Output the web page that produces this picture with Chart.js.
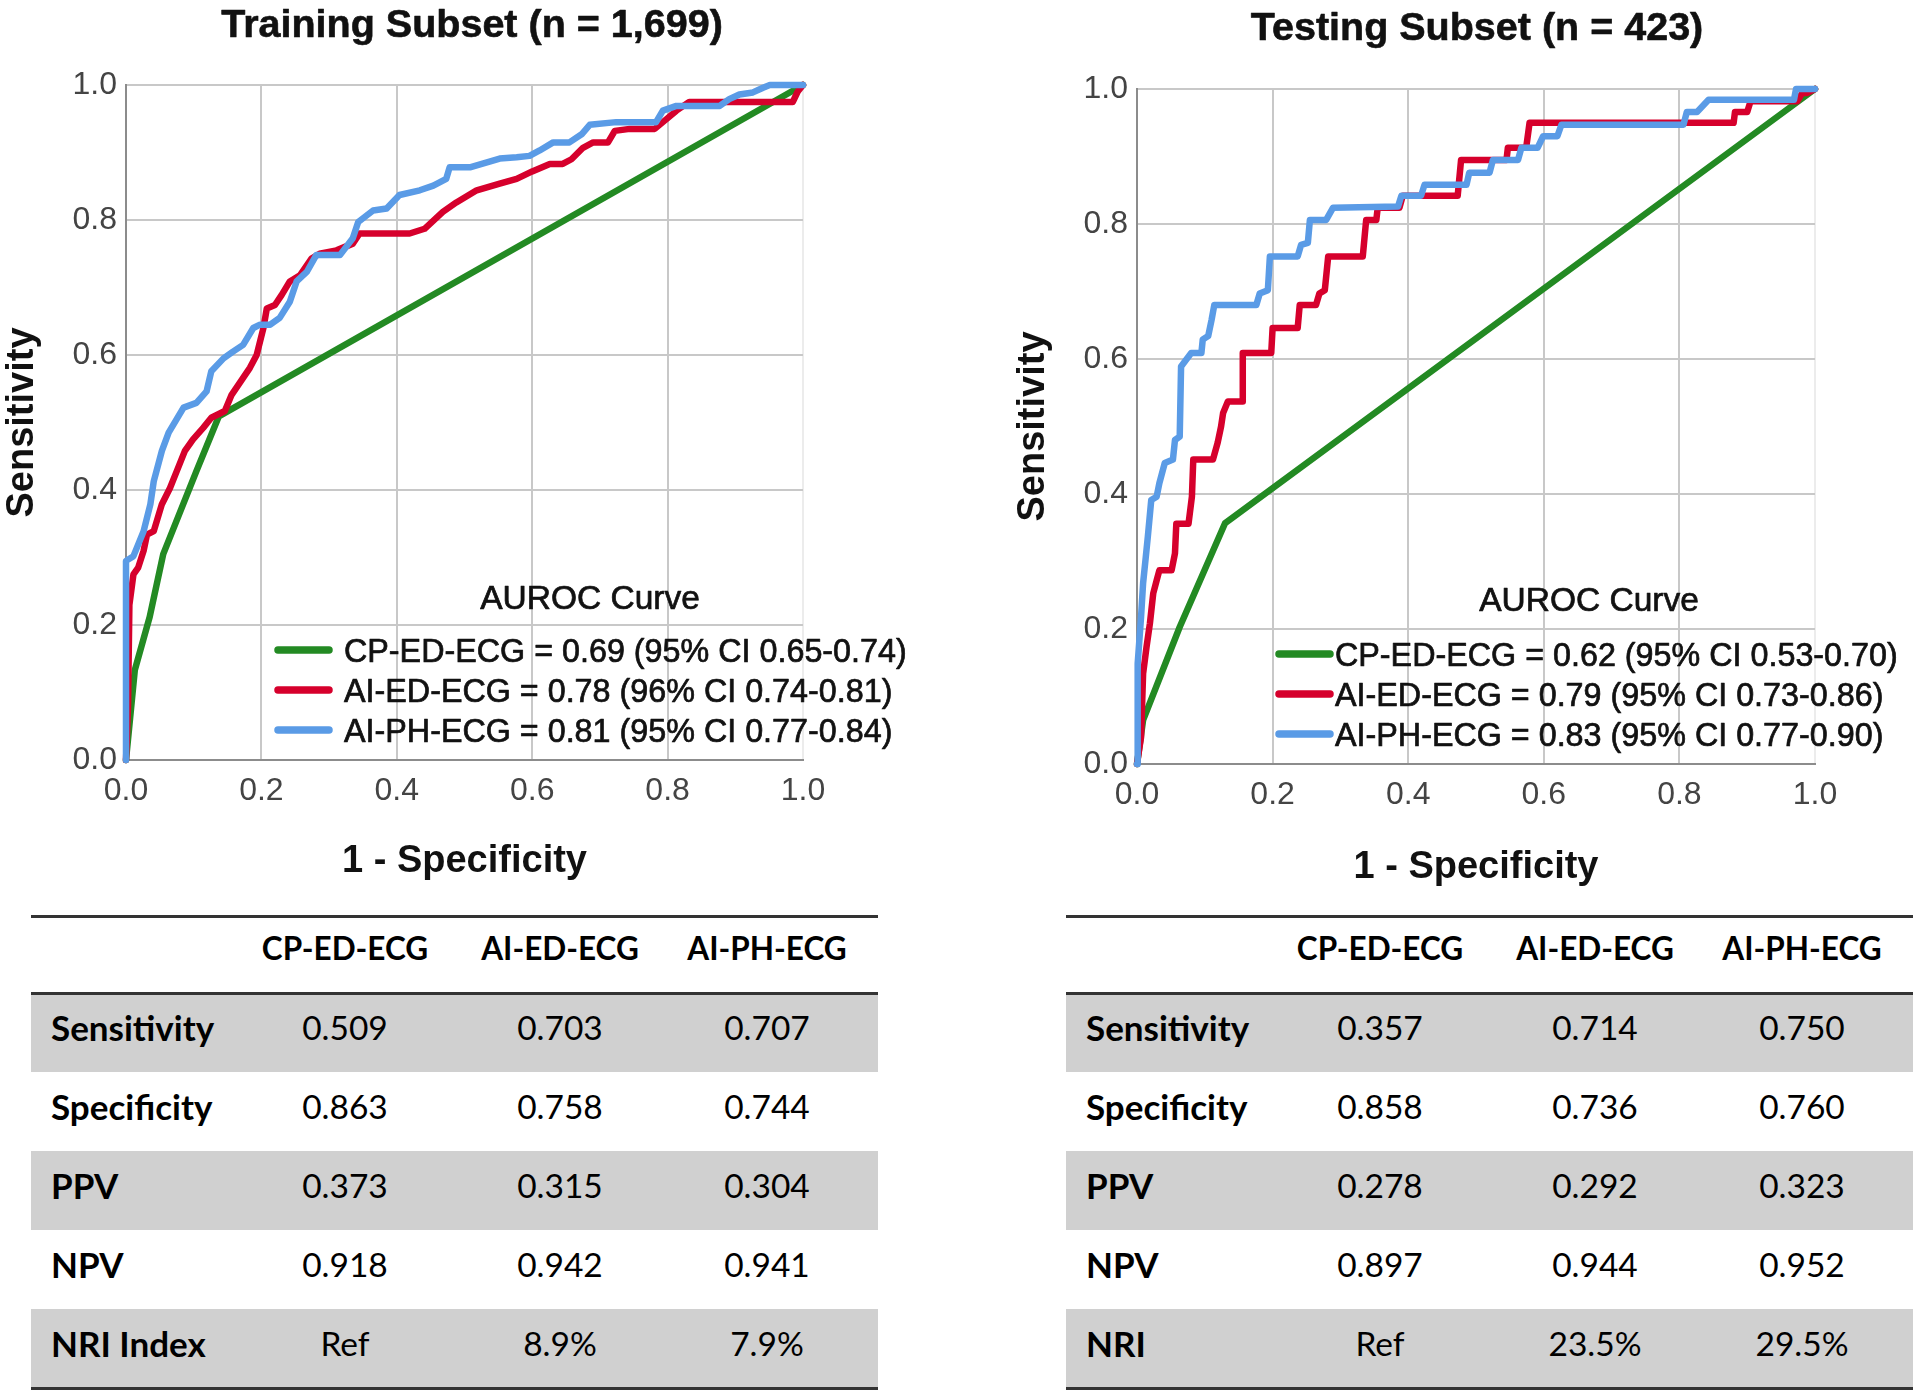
<!DOCTYPE html>
<html>
<head>
<meta charset="utf-8">
<script src="https://cdn.jsdelivr.net/npm/chart.js@4.4.1/dist/chart.umd.min.js"></script>
<style>
  html, body { margin: 0; padding: 0; background: #fff; }
  body { width: 1920px; height: 1395px; position: relative; overflow: hidden; font-family: Lato, "Open Sans", sans-serif; color: #000; }
  canvas { position: absolute; top: 0; }
  #trainCanvas { left: 0; }
  #testCanvas { left: 1011px; }
  .tbl { position: absolute; top: 915px; width: 847px; height: 476px; }
  .rule { position: absolute; left: 0; width: 100%; height: 3px; background: #333; }
  .row { position: absolute; left: 0; width: 100%; height: 79px; }
  .row.shade { background: #d0d0d0; }
  .cell { position: absolute; top: 0; height: 100%; line-height: 69px; white-space: nowrap; }
  .lab { left: 20px; font-weight: bold; font-size: 35px; }
  .val { width: 200px; text-align: center; font-size: 33.5px; }
  .hdr { width: 200px; text-align: center; font-size: 31.5px; font-weight: bold; }
</style>
</head>
<body>
<canvas id="trainCanvas" width="960" height="900"></canvas>
<canvas id="testCanvas" width="909" height="900"></canvas>
<div class="tbl" id="trainTable" style="left:31px"></div>
<div class="tbl" id="testTable" style="left:1066px"></div>
<script>
// ROC points: x = 1 - specificity, y = sensitivity
const trainGreenX = [0, 0.013, 0.035, 0.055, 0.104, 0.137, 1]
const trainGreenY = [0, 0.133, 0.212, 0.305, 0.428, 0.509, 1]
const trainRedX = [0, 0.003, 0.005, 0.011, 0.018, 0.026, 0.031, 0.041, 0.053, 0.065, 0.075, 0.087, 0.099, 0.114, 0.126, 0.146, 0.156, 0.173, 0.183, 0.193, 0.203, 0.208, 0.220, 0.230, 0.242, 0.257, 0.274, 0.286, 0.311, 0.335, 0.345, 0.419, 0.441, 0.468, 0.488, 0.518, 0.552, 0.577, 0.600, 0.626, 0.645, 0.658, 0.675, 0.690, 0.712, 0.722, 0.744, 0.781, 0.793, 0.813, 0.832, 0.985, 0.992, 1]
const trainRedY = [0, 0.08, 0.23, 0.275, 0.285, 0.31, 0.334, 0.339, 0.379, 0.403, 0.428, 0.458, 0.475, 0.492, 0.507, 0.517, 0.541, 0.566, 0.581, 0.600, 0.640, 0.669, 0.674, 0.689, 0.709, 0.718, 0.743, 0.750, 0.755, 0.765, 0.780, 0.780, 0.787, 0.812, 0.826, 0.844, 0.854, 0.861, 0.872, 0.883, 0.883, 0.890, 0.907, 0.915, 0.915, 0.932, 0.935, 0.935, 0.945, 0.962, 0.975, 0.975, 0.99, 1]
const trainBlueX = [0, 0, 0.011, 0.026, 0.036, 0.041, 0.053, 0.063, 0.085, 0.104, 0.119, 0.126, 0.144, 0.158, 0.173, 0.188, 0.198, 0.213, 0.227, 0.242, 0.252, 0.267, 0.281, 0.316, 0.335, 0.343, 0.365, 0.385, 0.404, 0.434, 0.454, 0.473, 0.478, 0.508, 0.552, 0.577, 0.596, 0.611, 0.631, 0.655, 0.673, 0.685, 0.724, 0.783, 0.793, 0.813, 0.877, 0.891, 0.906, 0.926, 0.941, 0.951, 1]
const trainBlueY = [0, 0.295, 0.302, 0.339, 0.379, 0.413, 0.458, 0.485, 0.522, 0.529, 0.546, 0.576, 0.595, 0.605, 0.615, 0.640, 0.645, 0.645, 0.655, 0.679, 0.709, 0.723, 0.748, 0.748, 0.773, 0.797, 0.814, 0.817, 0.837, 0.844, 0.851, 0.861, 0.878, 0.878, 0.891, 0.893, 0.895, 0.903, 0.915, 0.915, 0.927, 0.941, 0.945, 0.945, 0.962, 0.969, 0.969, 0.979, 0.986, 0.989, 0.996, 1.0, 1]

const testGreenX = [0, 0.009, 0.063, 0.13, 1]
const testGreenY = [0, 0.065, 0.203, 0.357, 1]
const testRedX = [0, 0.006, 0.009, 0.014, 0.019, 0.024, 0.029, 0.033, 0.051, 0.056, 0.058, 0.076, 0.081, 0.083, 0.112, 0.119, 0.124, 0.127, 0.134, 0.156, 0.156, 0.198, 0.200, 0.237, 0.240, 0.264, 0.269, 0.277, 0.282, 0.333, 0.338, 0.353, 0.355, 0.387, 0.392, 0.473, 0.478, 0.545, 0.547, 0.574, 0.579, 0.880, 0.882, 0.900, 0.905, 0.974, 0.981, 0.988, 1]
const testRedY = [0, 0.04, 0.134, 0.173, 0.208, 0.253, 0.272, 0.287, 0.287, 0.312, 0.356, 0.356, 0.396, 0.451, 0.451, 0.476, 0.500, 0.520, 0.537, 0.537, 0.609, 0.609, 0.646, 0.646, 0.680, 0.680, 0.697, 0.702, 0.752, 0.752, 0.806, 0.806, 0.824, 0.824, 0.842, 0.842, 0.895, 0.895, 0.913, 0.913, 0.950, 0.950, 0.966, 0.966, 0.982, 0.982, 0.994, 0.994, 1]
const testBlueX = [0, 0.001, 0.006, 0.009, 0.013, 0.016, 0.021, 0.029, 0.033, 0.041, 0.053, 0.056, 0.063, 0.065, 0.080, 0.095, 0.097, 0.105, 0.110, 0.114, 0.176, 0.181, 0.193, 0.196, 0.237, 0.242, 0.252, 0.255, 0.279, 0.289, 0.385, 0.390, 0.419, 0.424, 0.486, 0.490, 0.520, 0.525, 0.562, 0.567, 0.591, 0.599, 0.620, 0.626, 0.806, 0.811, 0.826, 0.843, 0.969, 0.972, 1]
const testBlueY = [0, 0.149, 0.218, 0.268, 0.307, 0.337, 0.391, 0.396, 0.416, 0.446, 0.451, 0.480, 0.485, 0.589, 0.609, 0.609, 0.629, 0.634, 0.658, 0.680, 0.680, 0.697, 0.702, 0.752, 0.752, 0.769, 0.772, 0.806, 0.806, 0.824, 0.826, 0.842, 0.842, 0.858, 0.858, 0.876, 0.876, 0.895, 0.895, 0.913, 0.913, 0.930, 0.930, 0.947, 0.947, 0.966, 0.966, 0.984, 0.984, 1.0, 1]

const trainLabels = ['CP-ED-ECG = 0.69 (95% CI 0.65-0.74)', 'AI-ED-ECG = 0.78 (96% CI 0.74-0.81)', 'AI-PH-ECG = 0.81 (95% CI 0.77-0.84)']
const testLabels = ['CP-ED-ECG = 0.62 (95% CI 0.53-0.70)', 'AI-ED-ECG = 0.79 (95% CI 0.73-0.86)', 'AI-PH-ECG = 0.83 (95% CI 0.77-0.90)']
const seriesColors = ['#238a23', '#d6002c', '#5a9be6']

const tableCols = ['CP-ED-ECG', 'AI-ED-ECG', 'AI-PH-ECG']
const trainRows = ['Sensitivity', 'Specificity', 'PPV', 'NPV', 'NRI Index']
const trainVals = [
  ['0.509', '0.703', '0.707'],
  ['0.863', '0.758', '0.744'],
  ['0.373', '0.315', '0.304'],
  ['0.918', '0.942', '0.941'],
  ['Ref', '8.9%', '7.9%']
]
const testRows = ['Sensitivity', 'Specificity', 'PPV', 'NPV', 'NRI']
const testVals = [
  ['0.357', '0.714', '0.750'],
  ['0.858', '0.736', '0.760'],
  ['0.278', '0.292', '0.323'],
  ['0.897', '0.944', '0.952'],
  ['Ref', '23.5%', '29.5%']
]

const FONT = '"Liberation Sans", Arial, Helvetica, sans-serif'

function pts(xs, ys) {
  return xs.map((x, i) => ({x: x, y: ys[i]}))
}

function makeSets(series, labels) {
  return series.map((s, i) => ({
    label: labels[i],
    data: pts(s[0], s[1]),
    showLine: true,
    borderColor: seriesColors[i],
    backgroundColor: seriesColors[i],
    borderWidth: 6.5,
    borderJoinStyle: 'round',
    borderCapStyle: 'round',
    pointRadius: 0,
    tension: 0,
    clip: false,
    order: 3 - i
  }))
}

// heavier text, the source figure is a little bold/blurred
function heavyText(ctx, txt, x, y, w) {
  ctx.lineWidth = w
  ctx.strokeStyle = ctx.fillStyle
  ctx.lineJoin = 'round'
  ctx.strokeText(txt, x, y)
  ctx.fillText(txt, x, y)
}

// title + in-plot legend, drawn on the canvas
const rocDecor = {
  id: 'rocDecor',
  afterDraw(chart, args, o) {
    const ctx = chart.ctx, a = chart.chartArea
    ctx.save()
    ctx.fillStyle = '#111'
    ctx.font = 'bold 39.5px ' + FONT
    ctx.textAlign = 'center'
    ctx.textBaseline = 'alphabetic'
    heavyText(ctx, o.title, o.titleX, o.titleY, 0.6)

    ctx.font = '33.5px ' + FONT
    ctx.textBaseline = 'middle'
    heavyText(ctx, 'AUROC Curve', a.left + o.legX, a.top + o.legY, 0.7)
    ctx.font = '32.3px ' + FONT
    chart.data.datasets.forEach((ds, i) => {
      const y = a.top + o.rowY + i * 40
      ctx.strokeStyle = ds.borderColor
      ctx.lineWidth = 7.5
      ctx.lineCap = 'round'
      ctx.beginPath()
      ctx.moveTo(a.left + o.lineX1, y - 3)
      ctx.lineTo(a.left + o.lineX2, y - 3)
      ctx.stroke()
      ctx.lineCap = 'butt'
      ctx.textAlign = 'left'
      ctx.fillStyle = '#111'
      heavyText(ctx, ds.label, a.left + o.textX, y, 0.7)
    })
    ctx.restore()
  }
}

function axis(title, size, titlePad, isX) {
  return {
    type: 'linear',
    min: 0,
    max: 1,
    afterFit(s) {
      if (isX) s.height = size
      else s.width = size
    },
    ticks: {
      stepSize: 0.2,
      padding: isX ? 12 : 9,
      color: '#444',
      font: {family: FONT, size: 32},
      callback: v => v.toFixed(1)
    },
    grid: {
      color: c => (c.tick && c.tick.value === 1 && isX) ? '#ececec' : '#c8c8c8',
      lineWidth: 2,
      drawTicks: false
    },
    border: {color: '#8c8c8c', width: 2},
    title: {
      display: true,
      text: title,
      color: '#111',
      font: {family: FONT, size: 38, weight: 'bold'},
      padding: titlePad
    }
  }
}

function rocChart(id, sets, pad, xH, decor, xPad) {
  new Chart(document.getElementById(id).getContext('2d'), {
    type: 'scatter',
    data: {datasets: sets},
    options: {
      responsive: false,
      animation: false,
      devicePixelRatio: 1,
      layout: {padding: pad},
      plugins: {legend: {display: false}, tooltip: {enabled: false}, rocDecor: decor},
      scales: {
        x: axis('1 - Specificity', xH, {top: 0, bottom: xPad}, true),
        y: axis('Sensitivity', 126, {top: 0, bottom: 0}, false)
      }
    },
    plugins: [rocDecor]
  })
}

rocChart('trainCanvas',
  makeSets([[trainGreenX, trainGreenY], [trainRedX, trainRedY], [trainBlueX, trainBlueY]], trainLabels),
  {top: 85, right: 157, bottom: 0, left: 0}, 140,
  {title: 'Training Subset (n = 1,699)', titleX: 472, titleY: 37, legX: 464, legY: 515, rowY: 568, lineX1: 152, lineX2: 203, textX: 218},
  16)

rocChart('testCanvas',
  makeSets([[testGreenX, testGreenY], [testRedX, testRedY], [testBlueX, testBlueY]], testLabels),
  {top: 89, right: 105, bottom: 0, left: 0}, 136,
  {title: 'Testing Subset (n = 423)', titleX: 466, titleY: 40, legX: 452, legY: 513, rowY: 568, lineX1: 142, lineX2: 193, textX: 198},
  10)

// the two metric tables
function buildTable(id, rows, vals) {
  const el = document.getElementById(id)
  const centers = [314, 529, 736]
  let html = '<div class="rule" style="top:0"></div>'
  html += '<div class="row" style="top:0;height:78px">'
  tableCols.forEach((c, j) => {
    html += '<div class="cell hdr" style="left:' + (centers[j] - 100) + 'px;line-height:66px">' + c + '</div>'
  })
  html += '</div>'
  rows.forEach((r, i) => {
    const top = 78 + i * 79
    html += '<div class="row' + (i % 2 === 0 ? ' shade' : '') + '" style="top:' + top + 'px">'
    html += '<div class="cell lab">' + r + '</div>'
    vals[i].forEach((v, j) => {
      html += '<div class="cell val" style="left:' + (centers[j] - 100) + 'px">' + v + '</div>'
    })
    html += '</div>'
  })
  html += '<div class="rule" style="top:77px"></div>'
  html += '<div class="rule" style="top:472px"></div>'
  el.innerHTML = html
}

buildTable('trainTable', trainRows, trainVals)
buildTable('testTable', testRows, testVals)
</script>
</body>
</html>
